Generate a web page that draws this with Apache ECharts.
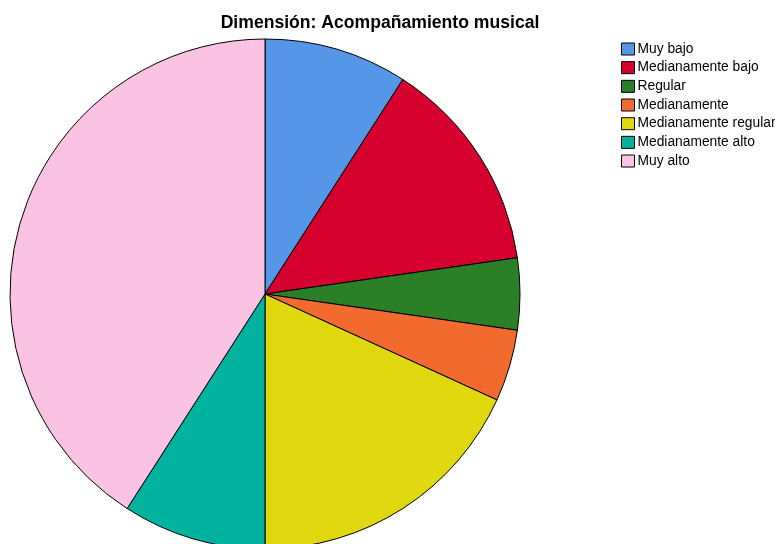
<!DOCTYPE html>
<html>
<head>
<meta charset="utf-8">
<script src="https://cdn.jsdelivr.net/npm/echarts@6/dist/echarts.min.js"></script>
<style>
  html, body { margin: 0; padding: 0; background: #fff; }
  #chart { width: 775px; height: 544px; }
</style>
</head>
<body>
<div id="chart"></div>
<script>
  // categorias y frecuencias
  const categories = ['Muy bajo', 'Medianamente bajo', 'Regular', 'Medianamente',
    'Medianamente regular', 'Medianamente alto', 'Muy alto'];
  const counts = [2, 3, 1, 1, 4, 2, 9];
  const colors = ['#5597e6', '#d6002f', '#2a7f27', '#f26a2e', '#e0d80e', '#00b39e', '#fbc3e3'];

  const chart = echarts.init(document.getElementById('chart'));
  chart.setOption({
    animation: false,
    color: colors,
    title: {
      text: 'Dimensión: Acompañamiento musical',
      left: 375,
      textAlign: 'center',
      top: 9,
      textStyle: { fontFamily: 'Liberation Sans, Arial', fontSize: 17.6, fontWeight: 'bold', color: '#000' }
    },
    legend: {
      orient: 'vertical',
      left: 616,
      top: 37,
      icon: 'rect',
      itemWidth: 13,
      itemHeight: 12,
      itemGap: 4.67,
      itemStyle: { borderColor: '#000', borderWidth: 1 },
      textStyle: { fontFamily: 'Liberation Sans, Arial', fontSize: 13.8, lineHeight: 14, color: '#000', padding: [0, 0, 0, -2] },
      data: categories
    },
    series: [{
      type: 'pie',
      center: [265, 294],
      radius: 255,
      startAngle: 90,
      clockwise: true,
      label: { show: false },
      labelLine: { show: false },
      itemStyle: { borderColor: '#000', borderWidth: 1 },
      emphasis: { disabled: true },
      data: categories.map((c, i) => ({ name: c, value: counts[i] }))
    }]
  });
</script>
</body>
</html>
